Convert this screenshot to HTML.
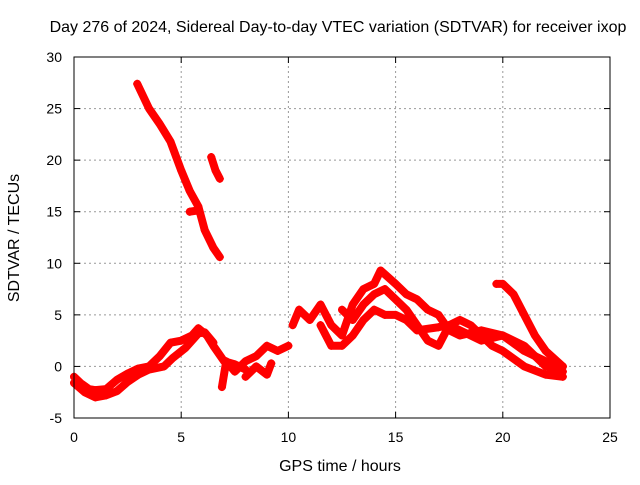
<!DOCTYPE html>
<html><head><meta charset="utf-8">
<style>
body{margin:0;background:#fff;width:640px;height:480px;overflow:hidden}
svg text{font-family:"Liberation Sans",sans-serif;font-size:14px;fill:#000}
svg text.big{font-size:16px}
</style></head><body>
<svg id="chart" width="640" height="480" xmlns="http://www.w3.org/2000/svg">
<text class="big" x="338" y="32" text-anchor="middle">Day 276 of 2024, Sidereal Day-to-day VTEC variation (SDTVAR) for receiver ixop</text>
<text class="big" x="340" y="471" text-anchor="middle">GPS time / hours</text>
<text class="big" x="19" y="238" text-anchor="middle" transform="rotate(-90 19 238)">SDTVAR / TECUs</text>
<g id="grid"></g><g id="marks"></g><g id="axes"></g>
</svg>
<script>
const xTicks=[0,5,10,15,20,25];
const yTicks=[-5,0,5,10,15,20,25,30];
const seriesA=[[2.95,27.4],[3.5,25],[4,23.5],[4.5,21.8],[5,19],[5.4,17],[5.8,15.5],[6.1,13.2],[6.5,11.5],[6.8,10.6]];
const seriesA2=[[5.4,15],[5.7,15.1]];
const seriesB=[[6.4,20.3],[6.6,19],[6.8,18.2]];
const seriesC=[[0,-1],[0.3,-1.6],[0.7,-2.2],[1,-2.3],[1.5,-2.2],[2,-1.3],[2.5,-0.7],[3,-0.2],[3.5,0],[4,1],[4.5,2.3],[5,2.5],[5.5,3],[5.8,3.7],[6.2,3],[6.5,2],[7,0.5],[7.5,0.2],[8,-0.3]];
const seriesC2=[[0,-1.6],[0.5,-2.5],[1,-3],[1.5,-2.8],[2,-2.4],[2.5,-1.5],[3,-0.8],[3.5,-0.3],[4.2,0],[4.6,0.8],[5.2,1.8],[5.8,3.2],[6.1,3.3],[6.5,2.3]];
const seriesD=[[6.9,-2],[7.1,0.5],[7.5,-0.5],[8,0.5],[8.5,1],[9,2],[9.5,1.5],[10,2]];
const seriesD2=[[8,-1],[8.5,0],[9,-0.8],[9.2,0.3]];
const seriesE=[[10.2,4],[10.5,5.5],[11,4.5],[11.5,6],[12,4],[12.5,3],[13,6],[13.5,7.5],[14,8],[14.3,9.3],[15,8],[15.5,7],[16,6.5],[16.5,5.5],[17,5],[17.5,3.5],[18,3],[19,3.5],[20,3],[21,1.5],[22,0.5],[22.8,0]];
const seriesF=[[11.5,4],[12,2],[12.5,2],[13,3],[13.5,4.5],[14,5.5],[14.5,5],[15,5],[15.5,4.5],[16,3.5],[17,3.8],[17.5,4],[18,3.5],[19,2.5],[20,3],[21,2],[22,0],[22.8,-0.5]];
const seriesG=[[12.5,5.5],[13,4.5],[13.5,6],[14,7],[14.5,7.5],[15,6.5],[15.5,5.5],[16,4],[16.5,2.5],[17,2],[17.5,4],[18,4.5],[18.5,4],[19,3],[19.5,2],[20,1.5],[21,0],[22,-0.8],[22.8,-1]];
const seriesH=[[19.7,8],[20,8],[20.5,7],[21,5],[21.5,3],[22,1.5],[22.8,0]];
const allSeries=[seriesA,seriesA2,seriesB,seriesC,seriesC2,seriesD,seriesD2,seriesE,seriesF,seriesG,seriesH];
const X0=74,X1=610,Y0=418,Y1=57;
const sx=h=>X0+(h-0)/(25-0)*(X1-X0);
const sy=v=>Y0-(v+5)/(35)*(Y0-Y1);
const NS="http://www.w3.org/2000/svg";
const grid=document.getElementById('grid'),axes=document.getElementById('axes'),marks=document.getElementById('marks');
function mk(tag,attrs,parent){const e=document.createElementNS(NS,tag);for(const k in attrs)e.setAttribute(k,attrs[k]);parent.appendChild(e);return e;}
xTicks.forEach(t=>{
  if(t>0&&t<25){const g=mk('line',{x1:sx(t),x2:sx(t),y1:Y0,y2:Y1,stroke:'#999','stroke-dasharray':'2,3'},grid);
  
  }
  mk('line',{x1:sx(t),x2:sx(t),y1:Y0,y2:Y0-6,stroke:'#000'},axes);
  mk('line',{x1:sx(t),x2:sx(t),y1:Y1,y2:Y1+6,stroke:'#000'},axes);
  const l=mk('text',{x:sx(t),y:Y0+24,'text-anchor':'middle'},axes);l.textContent=t;
  
  
});
yTicks.forEach(t=>{
  if(t>-5&&t<30){const g=mk('line',{x1:X0,x2:X1,y1:sy(t),y2:sy(t),stroke:'#999','stroke-dasharray':'2,3'},grid);
  
  }
  mk('line',{x1:X0,x2:X0+6,y1:sy(t),y2:sy(t),stroke:'#000'},axes);
  mk('line',{x1:X1,x2:X1-6,y1:sy(t),y2:sy(t),stroke:'#000'},axes);
  const l=mk('text',{x:X0-12,y:sy(t)+5,'text-anchor':'end'},axes);l.textContent=t;
  
  
});
const frame=mk('rect',{x:X0,y:Y1,width:X1-X0,height:Y0-Y1,fill:'none',stroke:'#000'},axes);


allSeries.forEach((s,i)=>{
  const pl=mk('polyline',{points:s.map(p=>sx(p[0])+','+sy(p[1])).join(' '),fill:'none',stroke:'#f00','stroke-width':8,'stroke-linejoin':'round','stroke-linecap':'round'},marks);
  
  
  s.forEach(p=>{
    const x=sx(p[0]),y=sy(p[1]);
    const m=mk('path',{d:`M${x-4},${y}H${x+4}M${x},${y-4}V${y+4}`,stroke:'#f00','stroke-width':1.5},marks);
    
    
  });
});
</script>
</body></html>
